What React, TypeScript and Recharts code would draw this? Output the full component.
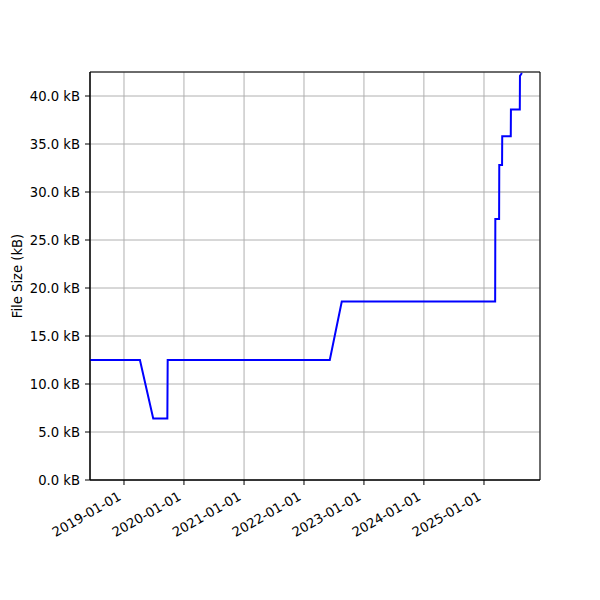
import React from 'react';
import { LineChart, Line, XAxis, YAxis, CartesianGrid, ReferenceArea } from 'recharts';

const dates: string[] = [
  '2018-06-08', '2019-04-08', '2019-06-28', '2019-09-22', '2019-09-24',
  '2022-06-07', '2022-08-19', '2025-03-10', '2025-03-11', '2025-04-03',
  '2025-04-04', '2025-04-21', '2025-04-22', '2025-06-13', '2025-06-14',
  '2025-08-07', '2025-08-08', '2025-08-20',
];
const sizesKB: number[] = [
  12.5, 12.5, 6.4, 6.4, 12.5,
  12.5, 18.6, 18.6, 27.2, 27.2,
  32.8, 32.8, 35.8, 35.8, 38.6,
  38.6, 42.1, 42.4,
];
const xTickLabels: string[] = [
  '2019-01-01', '2020-01-01', '2021-01-01', '2022-01-01', '2023-01-01', '2024-01-01', '2025-01-01',
];
const yTicks: number[] = [0, 5, 10, 15, 20, 25, 30, 35, 40];
const xDomainDates: string[] = ['2018-06-08', '2025-12-08'];
const yDomain: number[] = [0, 42.5];

const ts = (d: string) => Date.parse(d + 'T00:00:00Z');

const data = dates.map((d, i) => ({ t: ts(d), size: sizesKB[i] }));
const xTicks = xTickLabels.map(ts);
const xDomain = xDomainDates.map(ts);

const FONT = '"DejaVu Sans", sans-serif';
const FS = 13.2;

const fmtDate = (v: number) => new Date(v).toISOString().slice(0, 10);

const XTick = (props: any) => {
  const { x, y, payload } = props;
  const ax = x - 2;
  const ay = y + 9;
  return (
    <text
      x={ax}
      y={ay}
      textAnchor="end"
      transform={`rotate(-30, ${ax}, ${ay})`}
      fontFamily={FONT}
      fontSize={FS}
      fill="#000"
    >
      {fmtDate(payload.value)}
    </text>
  );
};

const YLabel = (props: any) => {
  const { viewBox } = props;
  const cx = 17;
  const cy = viewBox.y + viewBox.height / 2;
  return (
    <text
      x={cx}
      y={cy}
      textAnchor="middle"
      dominantBaseline="central"
      transform={`rotate(-90, ${cx}, ${cy})`}
      fontFamily={FONT}
      fontSize={FS}
      fill="#000"
    >
      File Size (kB)
    </text>
  );
};

export default function App() {
  return (
    <div style={{ position: 'absolute', left: 0, top: 0, width: 600, height: 600, background: '#fff' }}>
      <LineChart
        width={600}
        height={600}
        data={data}
        margin={{ top: 72, right: 60, bottom: 0, left: 0 }}
      >
        <CartesianGrid stroke="#b0b0b0" strokeWidth={1} />
        <XAxis
          dataKey="t"
          type="number"
          scale="time"
          domain={xDomain}
          ticks={xTicks}
          allowDataOverflow
          height={120}
          tickSize={5}
          tickMargin={5}
          stroke="#000"
          tickLine={{ stroke: '#000' }}
          axisLine={{ stroke: '#000' }}
          tick={<XTick />}
          interval={0}
        />
        <YAxis
          type="number"
          domain={yDomain}
          ticks={yTicks}
          allowDataOverflow
          width={90}
          tickSize={5}
          tickMargin={5}
          stroke="#000"
          interval={0}
          tickFormatter={(v: number) => `${v.toFixed(1)} kB`}
          tick={{ fontFamily: FONT, fontSize: FS, fill: '#000' }}
          label={<YLabel />}
        />
        <Line
          type="linear"
          dataKey="size"
          stroke="#0000ff"
          strokeWidth={2}
          dot={false}
          isAnimationActive={false}
        />
        <ReferenceArea
          x1={xDomain[0]}
          x2={xDomain[1]}
          y1={yDomain[0]}
          y2={yDomain[1]}
          fill="none"
          stroke="#000"
          strokeWidth={1}
          ifOverflow="visible"
        />
      </LineChart>
    </div>
  );
}
